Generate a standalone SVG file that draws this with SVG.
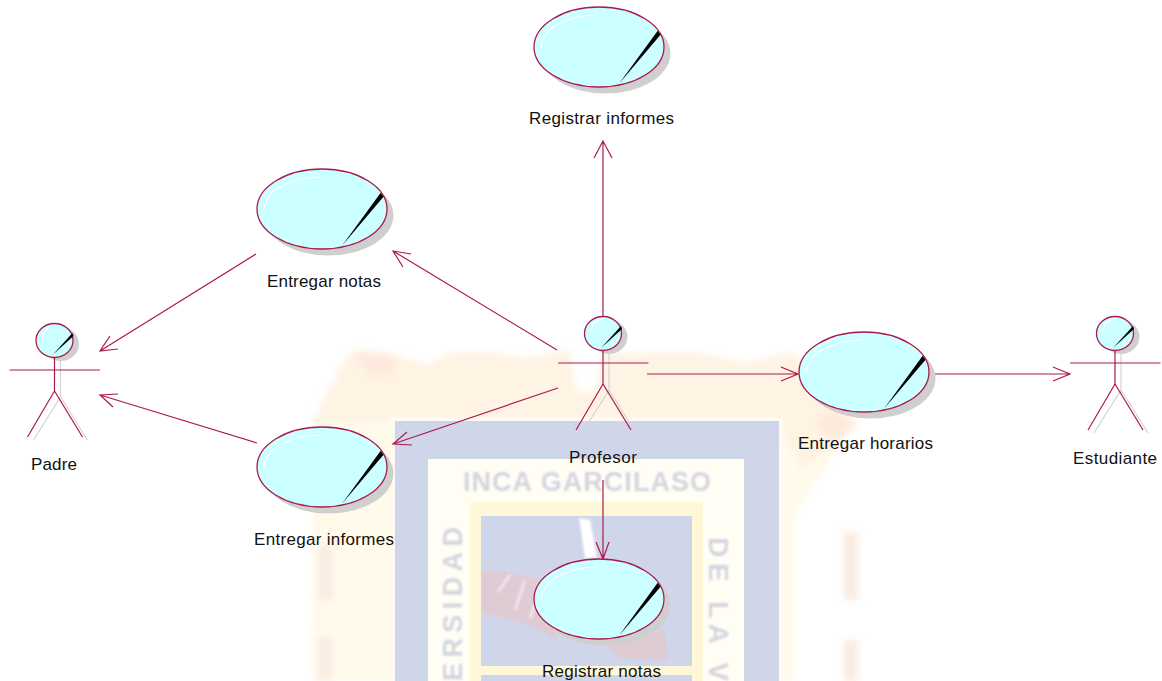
<svg xmlns="http://www.w3.org/2000/svg" width="1162" height="681" viewBox="0 0 1162 681">
<style>
.t{font-family:"Liberation Sans",Arial,sans-serif;font-size:17px;fill:#111;text-anchor:middle}
.w{font-family:"Liberation Sans",Arial,sans-serif;font-weight:bold;fill:#d3d6e0}
.c{fill:none;stroke:#ab1a4e;stroke-width:1.2}
.s{fill:#cfcfcf}
.g{fill:none;stroke:#d4d4d4;stroke-width:1.2}
.e{fill:#ccffff;stroke:#ab1a4e;stroke-width:1.3}
.h{fill:none;stroke:#fff;stroke-width:1.2}
.p{fill:#000}
</style>
<defs>
<filter id="b" x="-10%" y="-10%" width="120%" height="120%"><feGaussianBlur stdDeviation="3"/></filter>
<filter id="b2" x="-5%" y="-5%" width="110%" height="110%"><feGaussianBlur stdDeviation="0.8"/></filter>
<g id="uc">
<ellipse class="s" cx="71.500" cy="46.500" rx="65" ry="40"/>
<ellipse class="e" cx="65" cy="40" rx="65" ry="40"/>
<path class="h" d="M7 41C8 22 30 9 63 8"/>
<path class="p" d="M123.700 23.700L126.500 27.700L85 76.700Z"/>
</g>
<g id="ac">
<path class="g" d="M24.500 38V74L-2.500 117M24.500 74L51.500 117"/>
<ellipse class="s" cx="24.500" cy="21" rx="18.500" ry="17"/>
<ellipse class="e" cx="18.500" cy="17.500" rx="18.500" ry="17"/>
<path class="h" d="M6 17C6 10 11 5 14 4"/>
<path class="p" d="M36.500 10L37.500 13L16.500 32Z"/>
<path class="c" d="M18.500 35V68M-26.500 47H64M18.500 68L-8.500 114M18.500 68L46.500 114"/>
</g>
</defs>
<g id="watermark">
<g filter="url(#b)">
<path fill="#fffaea" d="M313 420H395V681H312ZM779 420H857L795 515V681H779Z"/>
<path fill="#fff3e3" d="M313 421L345 358L357 350L390 353L427 365L453 352L490 352L523 358L570 350L575 385L585 395L597 388L602 353L633 353L693 352L747 363L790 352L830 375L857 427L800 470L779 421Z"/>
<path fill="#fdeadc" d="M355 352L392 355L395 372L370 376ZM830 410L857 425L835 440L815 425Z"/>
<path fill="#f9ebe2" d="M318 547H332V600H318ZM318 637H332V681H318ZM844 532H858V600H844ZM844 640H858V681H844Z"/>
</g>
<rect x="391" y="417" width="392" height="264" fill="#fffbf0"/>
<rect x="395" y="421" width="384" height="260" fill="#d0d6ea"/>
<rect x="428" y="459" width="316" height="222" fill="#fffdf4"/>
<rect x="470" y="502" width="233" height="179" fill="#fff8d8"/>
<rect x="481" y="516" width="211" height="150" fill="#d0d6ea"/>
<rect x="481" y="675" width="211" height="6" fill="#d0d6ea"/>
<g filter="url(#b2)">
<path fill="#dfcbd3" d="M482 572L500 570L540 580L557 640L530 625L482 612ZM600 640L665 630L668 660L620 658Z"/>
<path fill="none" stroke="#f0e4ec" stroke-width="3" d="M498 592L510 575M515 610L525 580M530 618L540 588"/>
<path fill="#fff" d="M579 518L590 520L597 558L585 558Z"/>
<text class="w" x="587" y="491" font-size="27" text-anchor="middle" textLength="248">INCA GARCILASO</text>
<text class="w" transform="translate(462 681) rotate(-90)" font-size="27" textLength="154">ERSIDAD</text>
<text class="w" transform="translate(709 537) rotate(90)" font-size="28" textLength="144">DE LA V</text>
</g>
</g>
<g id="connectors" class="c">
<path d="M603 316V141M594 158L603 141L612 158"/>
<path d="M557 350L393 251M411 254L393 251L403 267"/>
<path d="M256 254L100 351M118 349L100 351L110 336"/>
<path d="M257 443L100 395M118 394L100 395L113 407"/>
<path d="M558 388L393 444M412 445L393 444L407 432"/>
<path d="M647 374H798M781 367L798 374L781 381"/>
<path d="M934 374H1070M1053 367L1070 374L1053 381"/>
<path d="M603 480V559M596 542L603 559L609 542"/>
</g>
<g id="registrar-informes"><use href="#uc" x="534" y="7"/><text class="t" x="601.500" y="124" textLength="145">Registrar informes</text></g>
<g id="entregar-notas"><use href="#uc" x="257" y="169"/><text class="t" x="324" y="287" textLength="114">Entregar notas</text></g>
<g id="entregar-informes"><use href="#uc" x="257" y="427"/><text class="t" x="324" y="545" textLength="140">Entregar informes</text></g>
<g id="entregar-horarios"><use href="#uc" x="799" y="332"/><text class="t" x="865.500" y="449" textLength="135">Entregar horarios</text></g>
<g id="registrar-notas"><use href="#uc" x="534" y="559"/><text class="t" x="601.500" y="677" textLength="119">Registrar notas</text></g>
<g id="profesor"><use href="#ac" x="584.500" y="316"/><text class="t" x="603" y="463" textLength="68">Profesor</text></g>
<g id="padre"><use href="#ac" x="36" y="323"/><text class="t" x="54" y="470" textLength="46">Padre</text></g>
<g id="estudiante"><use href="#ac" x="1096.500" y="316"/><text class="t" x="1115" y="464" textLength="84">Estudiante</text></g>
</svg>
